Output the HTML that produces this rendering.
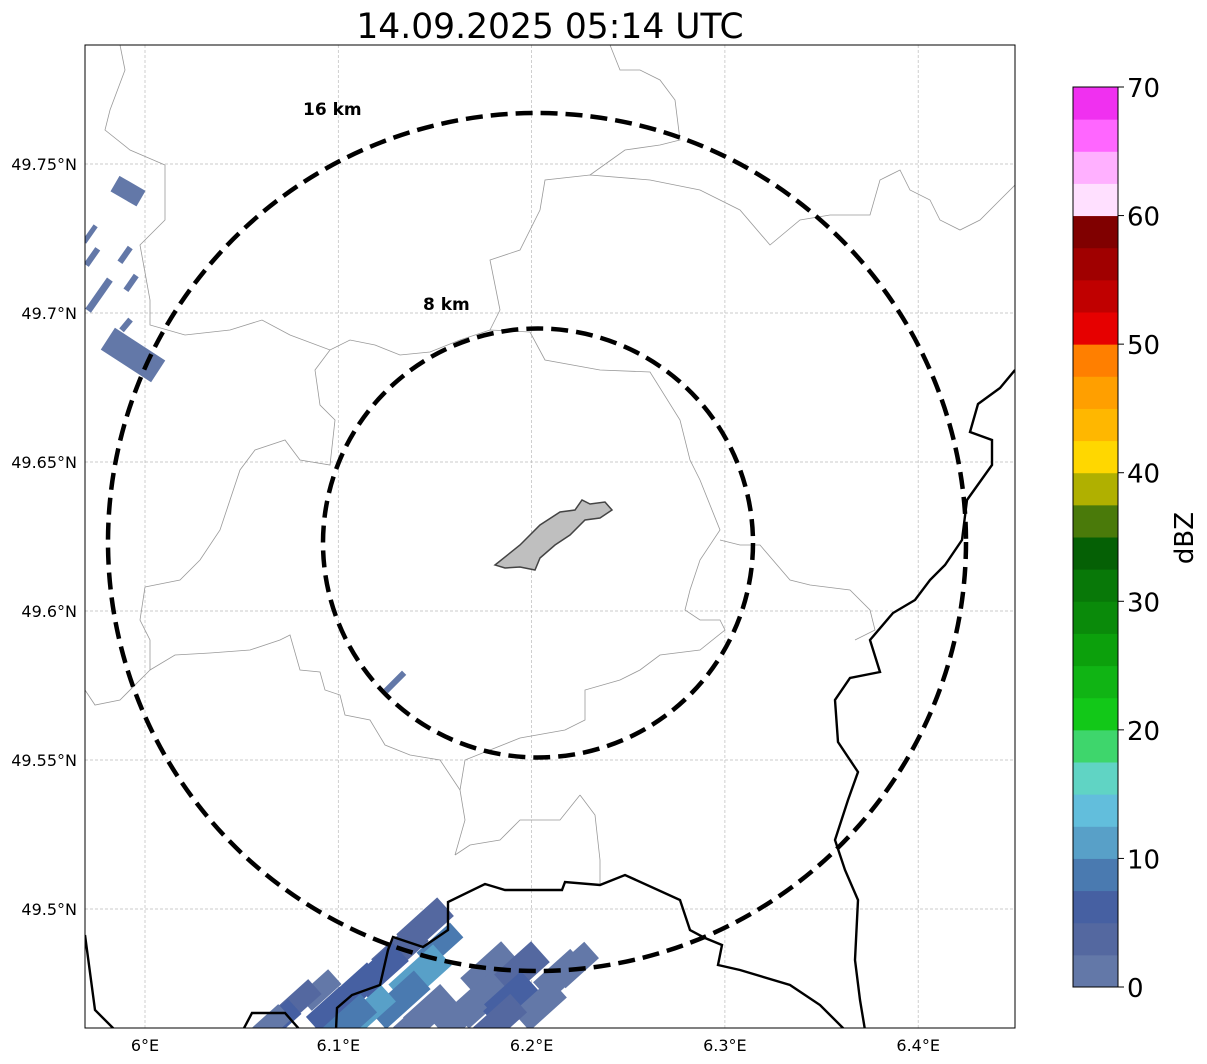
<!DOCTYPE html>
<html><head><meta charset="utf-8"><style>
body{margin:0;background:#fff;font-family:"DejaVu Sans","Liberation Sans",sans-serif;}
svg{display:block}
</style></head><body>
<svg id="chart" width="1207" height="1064" xmlns="http://www.w3.org/2000/svg" font-family="DejaVu Sans, Liberation Sans, sans-serif">
<text x="550" y="38" font-size="34.5" text-anchor="middle">14.09.2025 05:14 UTC</text>
<defs><clipPath id="mapclip"><rect x="85" y="45" width="930" height="983"/></clipPath></defs>
<g id="grid"></g>
<g clip-path="url(#mapclip)">
<g id="admin" fill="none" stroke="#999" stroke-width="0.8">
<polyline points="120,45 125,70 110,110 105,130 130,150 165,165 165,220 140,245 150,300 150,325 185,335 230,330 262,320 290,335 330,350 350,340 375,345 400,355 430,352 460,340 490,330 530,332 545,360 600,370 650,372 680,420 690,460 700,480 720,530 700,560 690,590 685,610 700,620 720,620 725,630 700,650 660,655 640,670 620,680 585,690 585,720 565,730 520,738 490,750 465,760 460,790 465,820 455,855"/>
<polyline points="330,350 315,370 320,405 335,420 330,465 300,460 285,440 255,450 240,470 230,500 220,530 200,560 180,580 145,587"/>
<polyline points="145,587 140,620 150,640 150,670 120,700 95,705 85,690"/>
<polyline points="150,670 175,655 210,653 250,650 280,640 290,635 300,670 320,672 325,690 340,695 345,715 370,720 385,745 410,755 440,760 460,790"/>
<polyline points="490,330 500,310 490,260 520,250 540,210 545,180 590,175 650,180 700,190 740,210 770,245 800,220 830,215 870,215 880,180 900,170 910,190 930,200 940,220 960,230 980,220 1000,200 1015,185"/>
<polyline points="590,175 625,150 660,145 680,140 675,100 660,80 640,70 620,70 610,45"/>
<polyline points="720,540 740,545 760,545 790,580 810,585 850,590 870,610 875,630 855,640"/>
<polyline points="580,795 560,820 520,820 500,840 470,845 455,855"/>
<polyline points="580,795 595,815 600,860 600,885"/>
</g>
<g id="rain"></g>
<g fill="none" stroke="#000" stroke-width="2.4">
<polyline points="1015,370 1000,388 978,404 970,432 992,440 992,465 967,500 962,540 945,565 930,580 915,600 893,613 870,640 880,672 850,678 835,700 838,742 858,772 848,800 835,840 845,870 858,900 855,960 860,1000 865,1030"/>
<polyline points="85,935 95,1010 115,1030"/>
<polyline points="243,1030 252,1013 285,1013 300,1030"/>
<polyline points="845,1030 820,1005 790,985 740,970 718,965 722,945 705,938 690,930 680,900 625,875 600,885 565,882 562,890 505,890 485,884 448,902 448,930 423,947 393,937 388,950 380,985 352,995 337,1008 336,1030"/>
</g>
<path d="M495,565 L520,545 L540,525 L560,512 L575,510 L582,500 L590,504 L605,502 L612,510 L600,518 L585,520 L570,535 L555,545 L540,558 L535,570 L520,567 L505,568 Z" fill="#bfbfbf" stroke="#444" stroke-width="1.5"/>
<ellipse cx="537" cy="542" rx="429" ry="429" fill="none" stroke="#000" stroke-width="4.5" stroke-dasharray="17,8"/>
<ellipse cx="538" cy="543" rx="215" ry="214.5" fill="none" stroke="#000" stroke-width="4.5" stroke-dasharray="17,8"/>
</g>
<text x="303" y="115" font-size="17" font-weight="bold">16 km</text>
<text x="423" y="310" font-size="17" font-weight="bold">8 km</text>
<rect x="85" y="45" width="930" height="983" fill="none" stroke="#000" stroke-width="1"/>
<g id="xticks" font-size="16" text-anchor="middle"></g>
<g id="yticks" font-size="16" text-anchor="end"></g>
<g id="cbar"></g>
<text transform="translate(1193,538) rotate(-90)" font-size="26" text-anchor="middle">dBZ</text>
</svg>
<script>
const lonTicks=[6.0,6.1,6.2,6.3,6.4];
const lonLabels=["6°E","6.1°E","6.2°E","6.3°E","6.4°E"];
const latTicks=[49.75,49.7,49.65,49.6,49.55,49.5];
const latLabels=["49.75°N","49.7°N","49.65°N","49.6°N","49.55°N","49.5°N"];
const cbLevels=[0,2.5,5,7.5,10,12.5,15,17.5,20,22.5,25,27.5,30,32.5,35,37.5,40,42.5,45,47.5,50,52.5,55,57.5,60,62.5,65,67.5,70];
const cbColors=["#6378a8","#5468a0","#4660a2","#4a7ab0","#58a0c8","#62bedc","#60d4c4","#3ed66c","#12c818","#10b414","#0ca00c","#0a8a0a","#087808","#056005","#4a7a0a","#b0b000","#ffd700","#ffb700","#ff9f00","#ff7f00","#e60000","#c00000","#a00000","#800000","#ffe0ff","#ffb0ff","#ff66ff","#f030f0"];
const cbTicks=[0,10,20,30,40,50,60,70];
const cellLon=[5.9912,5.9715,5.9726,5.9897,5.9928,5.9762,5.9902,5.9938,6.1293,6.1449,6.1319,6.1526,6.1216,6.1423,6.1086,6.1319,6.0905,6.0802,6.0957,6.0698,6.1164,6.1474,6.1785,6.1940,6.2147,6.1733,6.1888,6.2043,6.1630,6.2224,6.1423,6.1061,6.0647,6.1837];
const cellLat=[49.7409,49.7265,49.7188,49.7195,49.7101,49.7060,49.6960,49.6859,49.5762,49.4946,49.4862,49.4879,49.4795,49.4779,49.4728,49.4695,49.4728,49.4695,49.4661,49.4628,49.4661,49.4661,49.4795,49.4795,49.4779,49.4695,49.4695,49.4678,49.4644,49.4812,49.4628,49.4628,49.4611,49.4628];
const cellDbz=[1,1,1,1,1,1,1,2,1,4,3,8,6,10,7,9,2,3,6,5,12,1,1,4,1,1,7,1,1,2,1,8,1,3];
const cellW=[30,5,6,6,6,7,6,60,6,55,55,45,55,60,55,60,40,40,45,40,50,50,55,55,50,55,55,50,50,45,50,50,40,50];
const cellH=[18,20,20,18,18,38,14,26,26,25,25,20,25,28,25,25,20,20,22,20,22,25,28,28,25,28,28,25,25,22,25,25,20,25];
const cellAng=[30,35,35,35,35,35,40,33,45,-42,-42,-42,-42,-42,-42,-42,-42,-42,-42,-42,-42,-42,-42,-42,-42,-42,-42,-42,-42,-42,-42,-42,-42,-42];
const NS="http://www.w3.org/2000/svg";
const xS=lon=>145+(lon-6)*1933;
const yS=lat=>164+(49.75-lat)*2980;
const cbY=v=>987-v/70*900;
function mk(tag,attrs,parent){const e=document.createElementNS(NS,tag);for(const k in attrs)e.setAttribute(k,attrs[k]);parent.appendChild(e);return e;}
const grid=document.getElementById('grid'),xt=document.getElementById('xticks'),yt=document.getElementById('yticks');
lonTicks.forEach((v,i)=>{const l=mk('line',{x1:xS(v),x2:xS(v),y1:45,y2:1028,stroke:'#bbb','stroke-width':0.7,'stroke-dasharray':'3,2'},grid);


const t=mk('text',{x:xS(v),y:1051},xt);t.textContent=lonLabels[i];

});
latTicks.forEach((v,i)=>{const l=mk('line',{x1:85,x2:1015,y1:yS(v),y2:yS(v),stroke:'#bbb','stroke-width':0.7,'stroke-dasharray':'3,2'},grid);


const t=mk('text',{x:77,y:yS(v)+6},yt);t.textContent=latLabels[i];

});
function colorFor(d){for(let i=0;i<cbColors.length;i++){if(d<cbLevels[i+1])return cbColors[i];}return cbColors[cbColors.length-1];}
const rain=document.getElementById('rain');
cellLon.forEach((lon,i)=>{const cx=xS(lon),cy=yS(cellLat[i]);const r=mk('rect',{x:cx-cellW[i]/2,y:cy-cellH[i]/2,width:cellW[i],height:cellH[i],fill:colorFor(cellDbz[i]),transform:`rotate(${cellAng[i]} ${cx} ${cy})`},rain);

});
const cb=document.getElementById('cbar');
cbColors.forEach((c,i)=>{const y1=cbY(cbLevels[i+1]),y0=cbY(cbLevels[i]);const r=mk('rect',{x:1073,y:y1,width:45,height:y0-y1+0.5,fill:c},cb);

});
mk('rect',{x:1073,y:87,width:45,height:900,fill:'none',stroke:'#000','stroke-width':1},cb);
cbTicks.forEach(v=>{mk('line',{x1:1118,x2:1124,y1:cbY(v),y2:cbY(v),stroke:'#000'},cb);
const t=mk('text',{x:1127,y:cbY(v)+10,'font-size':26},cb);t.textContent=v;

});
</script>
</body></html>
